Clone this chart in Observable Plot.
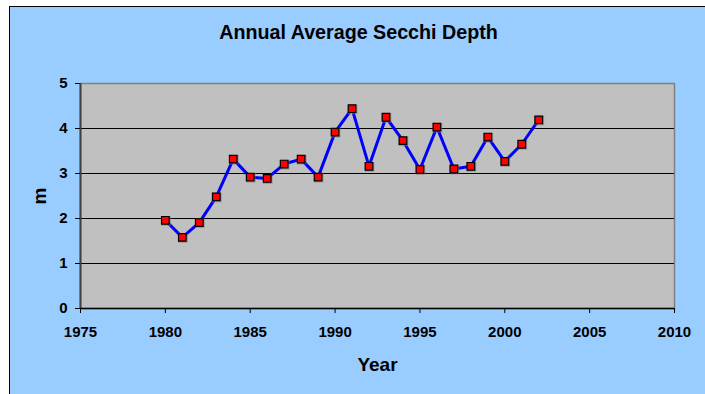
<!DOCTYPE html>
<html>
<head>
<meta charset="utf-8">
<script src="https://cdn.jsdelivr.net/npm/d3@7"></script>
<script src="https://cdn.jsdelivr.net/npm/@observablehq/plot@0.6"></script>
<style>
  html, body { margin: 0; padding: 0; background: #ffffff; width: 705px; height: 394px; overflow: hidden; }
  #panel {
    position: absolute; left: 9px; top: 6px; width: 696px; height: 388px;
    background: #99ccff; border-left: 1.5px solid #000; border-top: 1.5px solid #000;
    box-sizing: border-box; font-family: "Liberation Sans", Arial, sans-serif; overflow: hidden;
  }
  #title {
    position: absolute; left: 0; right: 0; top: 14px; text-align: center;
    font-weight: bold; font-size: 19.7px; color: #000; margin: 0; padding-left: 2px;
  }
  #chart { position: absolute; left: 0; top: 0; }
</style>
</head>
<body>
<div id="panel">
  <div id="title">Annual Average Secchi Depth</div>
  <div id="chart"></div>
</div>
<script>
// Annual average Secchi depth (m), 1980–2002
const years = [1980, 1981, 1982, 1983, 1984, 1985, 1986, 1987, 1988, 1989, 1990, 1991,
               1992, 1993, 1994, 1995, 1996, 1997, 1998, 1999, 2000, 2001, 2002];
const depths = [1.96, 1.58, 1.91, 2.48, 3.32, 2.92, 2.89, 3.21, 3.32, 2.92, 3.92, 4.44,
                3.16, 4.25, 3.73, 3.09, 4.03, 3.10, 3.16, 3.81, 3.27, 3.65, 4.19];
const yearTicks = [1975, 1980, 1985, 1990, 1995, 2000, 2005, 2010];
const depthTicks = [0, 1, 2, 3, 4, 5];
const gridTicks = [1, 2, 3, 4];

const data = years.map((year, i) => ({year, depth: depths[i]}));

const chart = Plot.plot({
  width: 695,
  height: 388,
  marginLeft: 70,
  marginRight: 31,
  marginTop: 76,
  marginBottom: 87,
  style: {background: "transparent", fontFamily: "Liberation Sans, Arial, sans-serif", fontWeight: "bold", fontSize: "15px", color: "#000"},
  x: {domain: [1975, 2010]},
  y: {domain: [0, 5]},
  marks: [
    Plot.frame({fill: "#c0c0c0", stroke: "#808080", strokeWidth: 1.5}),
    Plot.ruleY(gridTicks, {stroke: "#000", strokeWidth: 1}),
    Plot.ruleX([1975], {stroke: "#404040", strokeWidth: 2}),
    Plot.ruleY([0], {stroke: "#000", strokeWidth: 1.5}),
    Plot.axisX({
      ticks: yearTicks, tickFormat: d3.format("d"), tickSize: 5, tickPadding: 13,
      fontSize: 15, label: "Year", labelAnchor: "center", labelArrow: "none", labelOffset: 62
    }),
    Plot.axisY({
      ticks: depthTicks, tickFormat: d3.format("d"), tickSize: 5, tickPadding: 8,
      fontSize: 15, label: "m", labelAnchor: "center", labelArrow: "none", labelOffset: 48
    }),
    Plot.line(data, {x: "year", y: "depth", stroke: "#0000ff", strokeWidth: 3}),
    Plot.dot(data, {x: "year", y: "depth", symbol: "square", r: 5.4, fill: "#7a7a7a", fillOpacity: 0.6, dx: 0.6, dy: 0.6}),
    Plot.dot(data, {x: "year", y: "depth", symbol: "square", r: 4.3, fill: "#ff0000", stroke: "#000", strokeWidth: 1.2})
  ]
});
chart.querySelectorAll("g[aria-label='x-axis label'] text, g[aria-label='y-axis label'] text")
  .forEach(t => t.style.fontSize = "19px");
document.getElementById("chart").appendChild(chart);
</script>
</body>
</html>
